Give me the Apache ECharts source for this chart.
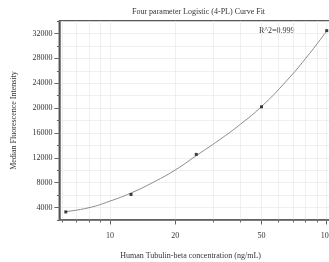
<!DOCTYPE html>
<html>
<head>
<meta charset="utf-8">
<script src="https://cdn.jsdelivr.net/npm/echarts@6/dist/echarts.min.js"></script>
<style>
html, body { margin: 0; padding: 0; background: #fff; }
#chart { width: 329px; height: 262px; }
</style>
</head>
<body>
<div id="chart"></div>
<script>
// measured standards
const pointX = [6.25, 12.5, 25, 50, 100]
const pointY = [3300, 6100, 12550, 20200, 32450]

// fitted 4-PL curve
const curveX = [6.25, 8, 10, 12.5, 16, 20, 25, 32, 40, 50, 63, 80, 100]
const curveY = [3350, 3980, 5040, 6340, 8150, 10050, 12350, 14900, 17400, 20250, 23800, 28000, 32400]

// ticks
const xLabelTicks = [10, 20, 50, 100]
const xAllTicks = [6, 7, 8, 9, 10, 20, 30, 40, 50, 60, 70, 80, 90, 100]
const yLabelTicks = [4000, 8000, 12000, 16000, 20000, 24000, 28000, 32000]

const serif = "Liberation Serif"
const txt = "#333"

let myChart = echarts.init(document.getElementById("chart"))

myChart.setOption({
  animation: false,
  title: {
    text: "Four parameter Logistic (4-PL) Curve Fit",
    left: 127,
    top: 3,
    textStyle: { fontFamily: serif, fontSize: 8, fontWeight: "normal", color: txt }
  },
  grid: {
    left: 59.4,
    top: 21,
    right: -6.7,
    bottom: 42,
    containLabel: false,
    outerBoundsMode: "none",
    show: true,
    borderColor: "#222",
    borderWidth: 1.5
  },
  graphic: [
    {
      type: "text",
      left: 259,
      top: 27,
      style: { text: "R^2=0.999", fontFamily: serif, fontSize: 8, fill: txt }
    }
  ],
  xAxis: [
    {
      type: "log",
      logBase: 10,
      min: 5.84,
      max: 110,
      position: "bottom",
      axisLine: { show: true, lineStyle: { color: "#666", width: 1.5 } },
      axisTick: { show: true, customValues: xAllTicks, length: 2.5, lineStyle: { color: "#666" } },
      axisLabel: { show: false },
      splitLine: { show: true, lineStyle: { color: "#ebebeb", width: 0.8 } }
    },
    {
      type: "log",
      logBase: 10,
      min: 5.84,
      max: 110,
      position: "bottom",
      axisLine: { show: false },
      axisTick: { show: true, customValues: xLabelTicks, length: 4.5, lineStyle: { color: "#666" } },
      axisLabel: {
        show: true,
        customValues: xLabelTicks,
        formatter: v => String(v),
        margin: 12,
        fontFamily: serif,
        fontSize: 8,
        color: txt
      },
      splitLine: { show: false },
      name: "Human Tubulin-beta concentration (ng/mL)",
      nameLocation: "middle",
      nameGap: 32,
      nameTextStyle: { fontFamily: serif, fontSize: 8, color: txt, padding: [0, 14, 0, 0] }
    }
  ],
  yAxis: [
    {
      type: "value",
      position: "left",
      min: 2000,
      max: 34000,
      interval: 2000,
      axisLine: { show: true, lineStyle: { color: "#666", width: 1.5 } },
      axisTick: { show: true, length: 2.5, lineStyle: { color: "#666" } },
      axisLabel: { show: false },
      splitLine: { show: true, lineStyle: { color: "#ebebeb", width: 0.8 } }
    },
    {
      type: "value",
      position: "left",
      offset: 0,
      min: 2000,
      max: 34000,
      interval: 2000,
      axisLine: { show: false },
      axisTick: { show: true, customValues: yLabelTicks, length: 5, lineStyle: { color: "#666" } },
      axisLabel: {
        show: true,
        customValues: yLabelTicks,
        formatter: v => String(v),
        margin: 7,
        fontFamily: serif,
        fontSize: 8,
        color: txt
      },
      splitLine: { show: false },
      name: "Median Fluorescence Intensity",
      nameLocation: "middle",
      nameGap: 41,
      nameRotate: 90,
      nameTextStyle: { fontFamily: serif, fontSize: 8, color: txt }
    }
  ],
  series: [
    {
      name: "fit",
      type: "line",
      xAxisIndex: 0,
      yAxisIndex: 0,
      data: curveX.map((x, i) => [x, curveY[i]]),
      smooth: true,
      showSymbol: false,
      symbol: "none",
      lineStyle: { color: "#8a8a8a", width: 1 },
      z: 3
    },
    {
      name: "standards",
      type: "scatter",
      xAxisIndex: 0,
      yAxisIndex: 0,
      data: pointX.map((x, i) => [x, pointY[i]]),
      symbol: "rect",
      symbolSize: 3,
      itemStyle: { color: "#111" },
      z: 4
    }
  ]
})
</script>
</body>
</html>
